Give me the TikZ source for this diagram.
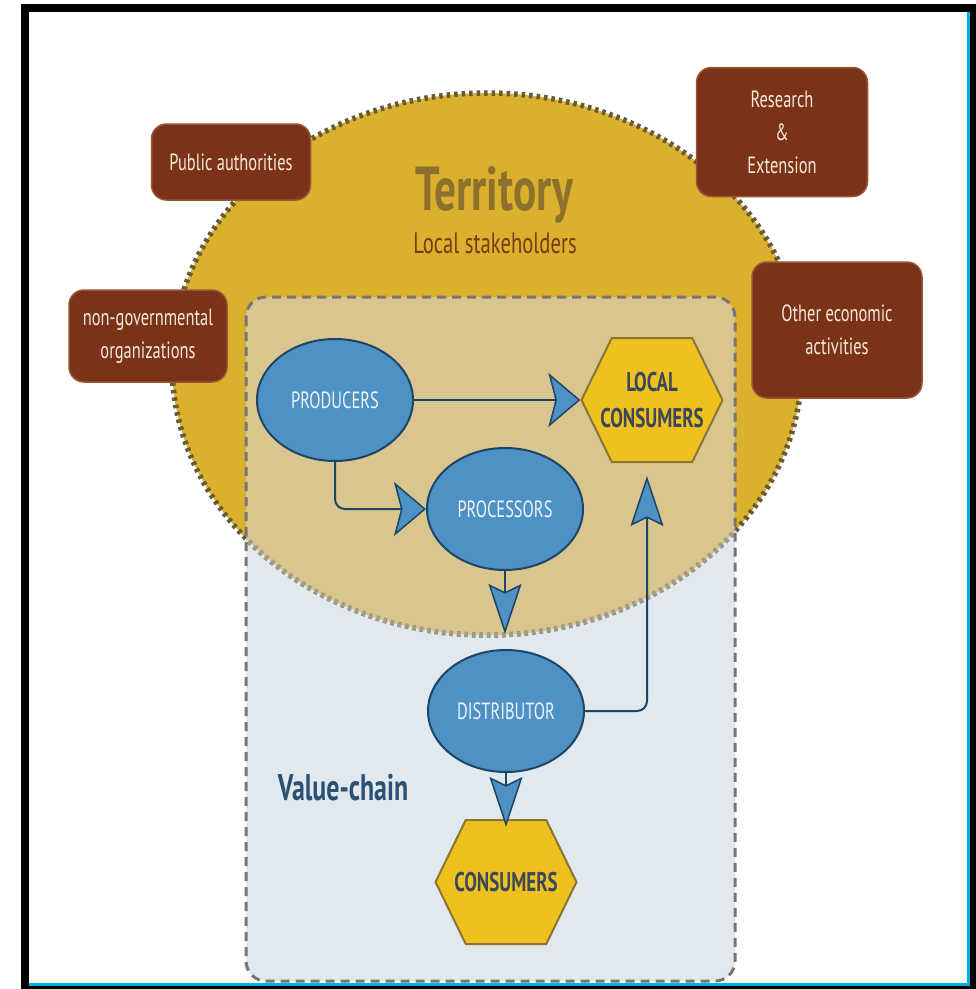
\documentclass[tikz,border=0pt]{standalone}
\usepackage{fontspec}
\setmainfont{PT Sans}[FakeStretch=0.7]
\usetikzlibrary{shapes.geometric, shapes.symbols, arrows.meta, positioning}

\definecolor{territory}{HTML}{DBB02C}
\definecolor{terredge}{HTML}{665A3C}
\definecolor{overlap}{HTML}{D9C68E}
\definecolor{overedge}{HTML}{A09A88}
\definecolor{chainbg}{HTML}{E1E9EF}
\definecolor{chainedge}{HTML}{767676}
\definecolor{actor}{HTML}{7B3318}
\definecolor{actoredge}{HTML}{9B5535}
\definecolor{actortext}{HTML}{F6E8DA}
\definecolor{nodeblue}{HTML}{4E91C4}
\definecolor{nodeedge}{HTML}{1E4565}
\definecolor{nodetext}{HTML}{EEF3F8}
\definecolor{hexfill}{HTML}{EEC11E}
\definecolor{hexedge}{HTML}{8C7434}
\definecolor{hextext}{HTML}{3B475A}
\definecolor{frameblue}{HTML}{00B2E8}
\definecolor{titlecol}{HTML}{8C702C}
\definecolor{subcol}{HTML}{7A3A16}
\definecolor{chaincol}{HTML}{2B5072}

\begin{document}
\begin{tikzpicture}[x=1pt, y=-1pt,
    actorbox/.style={draw=actoredge, line width=1.5pt, fill=actor, rounded corners=15pt, text=actortext, align=center, font=\fontsize{23.5}{33}\selectfont, inner sep=0pt},
    chainnode/.style={ellipse, draw=nodeedge, line width=2pt, fill=nodeblue, minimum width=156pt, minimum height=122pt, inner sep=0pt, text=nodetext, font=\fontsize{23.5}{28}\selectfont},
    consnode/.style={signal, signal to=east and west, signal pointer angle=128, draw=hexedge, line width=2pt, fill=hexfill, minimum width=141pt, minimum height=124pt, inner sep=0pt},
    hexlabel/.style={text=hextext, align=center, font=\bfseries\fontsize{27}{36}\selectfont},
    flow/.style={draw=nodeedge, line width=2pt, rounded corners=10pt},
    harrw/.style={-{Stealth[length=32pt, width=54pt, inset=7pt, fill=nodeblue, line width=1.5pt]}},
    varrw/.style={-{Stealth[length=50pt, width=33pt, inset=8pt, fill=nodeblue, line width=1.5pt]}}
]
\useasboundingbox (0,0) rectangle (976,989);
% frame
\fill[white] (0,0) rectangle (976,989);
\fill[black] (21,4) rectangle (976,989);
\fill[white] (29,12) rectangle (970,986);
\fill[frameblue] (967,12) rectangle (970,986);
\fill[frameblue] (29,983) rectangle (970,986);

% value-chain area and territory
\fill[chainbg, rounded corners=20pt] (246,297) rectangle (735,981);
\fill[territory] (487,364) ellipse [x radius=315, y radius=271];
\draw[terredge, line width=5.5pt, dash pattern=on 3.5pt off 4pt] (487,364) ellipse [x radius=315, y radius=271];
\begin{scope}
\clip[rounded corners=20pt] (246,297) rectangle (735,981);
\fill[overlap] (487,364) ellipse [x radius=315, y radius=271];
\draw[overedge, line width=5.5pt, dash pattern=on 3.5pt off 4pt] (487,364) ellipse [x radius=315, y radius=271];
\end{scope}
\draw[chainedge, line width=3pt, dash pattern=on 9pt off 6pt, rounded corners=20pt] (246,297) rectangle (735,981);

% stakeholders
\node[actorbox, minimum width=159pt, minimum height=76pt] (pubauth) at (231,162) {Public authorities};
\node[actorbox, minimum width=171pt, minimum height=129pt] (research) at (782,132) {Research\\\&\\Extension};
\node[actorbox, minimum width=158pt, minimum height=92pt] (ngo) at (148,336) {non-governmental\\organizations};
\node[actorbox, minimum width=170pt, minimum height=136pt] (othereco) at (837,330) {Other economic\\activities};

% titles
\node[font=\bfseries\fontsize{62}{62}\selectfont, text=titlecol, anchor=base] (territorytitle) at (494,210) {Territory};
\node[font=\fontsize{29.5}{29.5}\selectfont, text=subcol, anchor=base] (stake) at (495,253) {Local stakeholders};
\node[font=\bfseries\fontsize{37}{37}\selectfont, text=chaincol, anchor=base] (vchain) at (343,800) {Value-chain};

% value chain
\node[chainnode] (producers) at (335,400) {PRODUCERS};
\node[chainnode] (processors) at (505,509) {PROCESSORS};
\node[chainnode] (distributor) at (506,711) {DISTRIBUTOR};
\node[consnode, label={[hexlabel]center:{LOCAL\\CONSUMERS}}] (localcons) at (652,400) {};
\node[consnode, label={[hexlabel]center:CONSUMERS}] (consumers) at (506,882) {};

\draw[flow, harrw] (producers) -- (localcons);
\draw[flow, harrw] (producers.south) |- (processors.west);
\draw[flow, varrw, shorten >=15pt] (processors.south) -- (processors.south |- distributor.north);
\draw[flow, varrw, shorten >=13pt] (distributor.east) -| ([xshift=-5pt]localcons.south);
\draw[flow, varrw, shorten >=-8pt] (distributor.south) -- (consumers.north);
\end{tikzpicture}
\end{document}
